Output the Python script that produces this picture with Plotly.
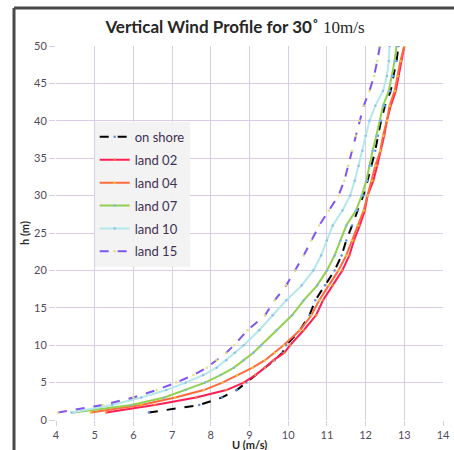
import plotly.graph_objects as go

heights = [1, 2, 3, 4, 5, 6, 7, 8, 9, 10, 12, 14, 16, 18, 20, 22, 24, 26, 28, 30,
           32, 34, 36, 38, 40, 42, 44, 46, 48, 50]

on_shore = [6.4, 7.7, 8.28, 8.67, 8.92, 9.15, 9.4, 9.65, 9.85, 9.95, 10.3, 10.55, 10.7, 10.95,
            11.2, 11.38, 11.5, 11.65, 11.8, 11.94, 12.05, 12.15, 12.25, 12.32, 12.4, 12.5,
            12.65, 12.72, 12.8, 12.85]
land_02 = [5.3, 6.55, 7.62, 8.4, 8.85, 9.15, 9.4, 9.62, 9.9, 10.05, 10.4, 10.72, 10.9, 11.15,
           11.4, 11.58, 11.7, 11.85, 11.98, 12.05, 12.2, 12.3, 12.4, 12.48, 12.55, 12.65,
           12.78, 12.85, 12.92, 13.0]
land_04 = [4.9, 6.2, 7.08, 7.82, 8.3, 8.68, 9.08, 9.4, 9.65, 9.88, 10.3, 10.6, 10.8, 11.05,
           11.3, 11.5, 11.65, 11.8, 11.95, 12.05, 12.15, 12.25, 12.38, 12.45, 12.55, 12.62,
           12.75, 12.82, 12.9, 13.0]
land_07 = [4.45, 5.95, 6.8, 7.35, 7.85, 8.25, 8.6, 8.85, 9.1, 9.3, 9.7, 10.1, 10.4, 10.75,
           11.0, 11.2, 11.35, 11.5, 11.75, 11.9, 12.02, 12.1, 12.18, 12.28, 12.37, 12.45,
           12.6, 12.68, 12.75, 12.8]
land_10 = [4.4, 5.45, 6.2, 6.85, 7.35, 7.8, 8.15, 8.4, 8.62, 8.85, 9.25, 9.6, 9.95, 10.35,
           10.65, 10.85, 11.0, 11.15, 11.4, 11.6, 11.72, 11.82, 11.92, 12.0, 12.1, 12.25,
           12.45, 12.55, 12.6, 12.62]
land_15 = [4.05, 5.2, 6.0, 6.6, 7.1, 7.55, 7.9, 8.15, 8.4, 8.6, 8.95, 9.4, 9.65, 9.95,
           10.18, 10.4, 10.6, 10.8, 11.05, 11.3, 11.45, 11.55, 11.65, 11.75, 11.84, 11.95,
           12.1, 12.22, 12.3, 12.37]

series_names = ["on shore", "land 02", "land 04", "land 07", "land 10", "land 15"]
series_values = [on_shore, land_02, land_04, land_07, land_10, land_15]
line_colors = ["#000000", "#ff1f55", "#ff6a3d", "#92d050", "#b4e8ea", "#7f56ee"]
marker_colors = ["#5b8fe0", "#f08040", "#f0c040", "#7fb8e0", "#8fc0e8", "#e0e080"]
dashes = ["dash", "solid", "solid", "solid", "solid", "dash"]

fig = go.Figure()
for i, (name, vals) in enumerate(zip(series_names, series_values)):
    fig.add_trace(go.Scatter(
        x=vals, y=heights, name=name, mode="lines+markers",
        line=dict(color=line_colors[i], width=2, dash=dashes[i]),
        marker=dict(color=marker_colors[i], size=2.5),
        legendgroup=name,
    ))

grid_col = "#d8cce6"
tick_col = "#4f4a5c"
fig.update_layout(
    width=454, height=450,
    margin=dict(l=56, r=11, t=46, b=30),
    paper_bgcolor="white", plot_bgcolor="white",
    font=dict(family="Lato, Liberation Sans, sans-serif", color=tick_col, size=11),
    title=dict(
        text="<b>Vertical Wind Profile for 30˚</b> <span style='font-family:Liberation Serif'>10m/s</span>",
        x=235 / 454, xref="container", xanchor="center",
        y=1 - 27 / 450, yref="container", yanchor="middle",
        font=dict(size=17, color="#262626", family="Lato, Liberation Sans, sans-serif"),
    ),
    xaxis=dict(
        range=[4, 14], dtick=1, tick0=4, showgrid=True, gridcolor=grid_col, gridwidth=1,
        zeroline=False, showline=False, ticks="outside", ticklen=5, tickcolor=grid_col,
        tickfont=dict(size=11, color=tick_col), automargin=False,
    ),
    yaxis=dict(
        range=[0, 50], dtick=5, tick0=0, showgrid=True, gridcolor=grid_col, gridwidth=1,
        zeroline=False, showline=False, ticks="outside", ticklen=6, tickcolor=grid_col,
        tickfont=dict(size=11, color=tick_col), automargin=False,
    ),
    legend=dict(
        x=0.1, y=0.797, xanchor="left", yanchor="top",
        bgcolor="rgba(242,242,242,0.95)", borderwidth=0,
        font=dict(size=13, color="#3f3151"),
        tracegroupgap=3, itemwidth=30,
    ),
    showlegend=True,
)

fig.add_annotation(text="<b>U (m/s)</b>", xref="paper", yref="paper", x=0.5, y=-0.0655,
                   xanchor="center", yanchor="middle", showarrow=False,
                   font=dict(size=11, color="#262626"))
fig.add_annotation(text="<b>h (m)</b>", xref="paper", yref="paper", x=-0.0827, y=0.5,
                   xanchor="center", yanchor="middle", showarrow=False, textangle=-90,
                   font=dict(size=11, color="#262626"))

# outer chart frame (left and top edges visible in the reference)
fig.add_shape(type="line", xref="paper", yref="paper",
              x0=-0.1085, x1=-0.1085, y0=-0.12, y1=1.1016,
              line=dict(color="#4a4a4a", width=3))
fig.add_shape(type="line", xref="paper", yref="paper",
              x0=-0.1085, x1=1.05, y0=1.1016, y1=1.1016,
              line=dict(color="#4a4a4a", width=3))

fig.write_html(
    "out.html",
    config={"displayModeBar": False},
    post_script="document.body.style.margin='0';document.body.style.overflow='hidden';",
)
